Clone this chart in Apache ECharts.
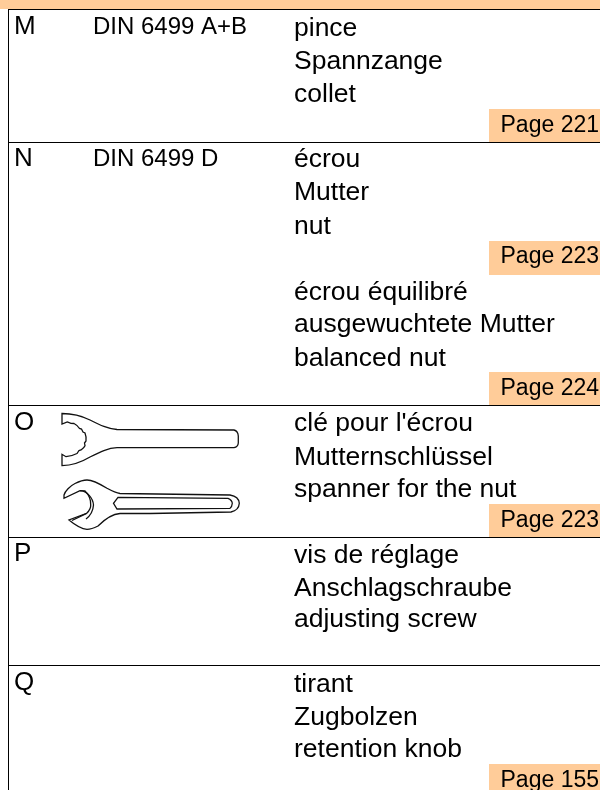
<!DOCTYPE html>
<html><head><meta charset="utf-8">
<style>html,body{margin:0;padding:0;background:#fff}#c{width:600px;height:790px}</style>
<script src="https://cdn.jsdelivr.net/npm/echarts@6/dist/echarts.min.js"></script></head>
<body><div id="c"></div>
<script>
const rowLetters = ['M','N','O','P','Q'];
const normLabels = ['DIN 6499 A+B','DIN 6499 D'];
const descriptions = [
  'pince','Spannzange','collet',
  'écrou','Mutter','nut',
  'écrou équilibré','ausgewuchtete Mutter','balanced nut',
  "clé pour l'écrou",'Mutternschlüssel','spanner for the nut',
  'vis de réglage','Anschlagschraube','adjusting screw',
  'tirant','Zugbolzen','retention knob'
];
const pageLabels = ['Page 221','Page 223','Page 224','Page 223','Page 155'];

const FONT = '"Liberation Sans", Arial, sans-serif';
const ORANGE = '#FFCC99';
const letterY = [35,167,431,562,691];
const normY = [35,167];
const descY = [36,69,102, 167,200.5,234, 300,332,366, 431,465,497.5, 563,596,627, 692,725,757];
const pageRect = [[489,109,33],[489,241,34],[489,372,33],[489,504,33],[489,764,26]];
const pageBase = [133,264,396,528,788];
const rules = [9,142,405,537,665];

const baselineText = (x,base,text,size,align) => ({
  type:'text',x:x,y:base-size*0.8,
  style:{text:text,font:size+'px '+FONT,fill:'#000',textAlign:align||'left',textVerticalAlign:'top'}
});
const g = [];
g.push({type:'rect',shape:{x:0,y:0,width:600,height:9},style:{fill:ORANGE},silent:true});
pageRect.forEach((r,i)=>{
  g.push({type:'rect',shape:{x:r[0],y:r[1],width:600-r[0],height:r[2]},style:{fill:ORANGE}});
  g.push(baselineText(599,pageBase[i],pageLabels[i],23,'right'));
});
rules.forEach(y=>g.push({type:'rect',shape:{x:8,y:y,width:592,height:1},style:{fill:'#000'}}));
g.push({type:'rect',shape:{x:8,y:9,width:1,height:781},style:{fill:'#000'}});
rowLetters.forEach((t,i)=>g.push(baselineText(14,letterY[i],t,26,'left')));
normLabels.forEach((t,i)=>g.push(baselineText(93,normY[i],t,24,'left')));
descriptions.forEach((t,i)=>g.push(baselineText(294,descY[i],t,26.5,'left')));

const spannerPaths = [
 'M62 413.5 C70 413.5 80 415 90 420 C100 425 108 429 117 429.5 L234 430 Q238 431 238.3 436 L238.3 443 Q238 447 234 447.7 L117 447.7 C108 448 100 452 90 457 C80 463 70 465.5 62 465.7 L62 454.3 L66 456.7 C70 456.5 74 455 77 453.5 L79 450.5 L81 450 C83 448.5 84.5 447 85 445.7 L84.5 443 L86 441 C86.3 438 86 435.5 85 433 L83 432 L81.5 429 L79.5 428.5 C78 426 76 424.5 74 423.5 L71 423.3 L67.3 422 L62 424 Z',
 'M64 495 C65 491 70 486 75 483.5 C80 481 84 480 87 480 C92 480 100 484 107 488.3 C112 491 116 493 120 493.5 L230 495 C236 496 239 499 239.3 503.3 C239 508 236 511 231 512 L150 513.5 L120 513.5 C113 514 106 518 98 526 C94 528 90 529.3 87 529.3 C82 529 75 525 69 520 L86.7 513.3 C89 511 91 509 90.7 505 C91 500 89 495 85 491 L80 490.7 L64 498.3 Z',
 'M118 497.3 L228 498.3 Q232 500 232.3 503.3 Q232 507 230 508.3 L117 509 L113.5 503.3 Z',
 'M80 490.7 C87 491 93 498 93.5 505 C93 512 90 516 86 519 M86.7 513.3 L72 520.5'
];
const closedFill = [true,true,true,false];

echarts.init(document.getElementById('c'),null,{renderer:'canvas'}).setOption({
  animation:false,
  graphic:{elements:g},
  series:[{
    type:'custom',coordinateSystem:'none',silent:true,data:[[0]],z:10,
    renderItem:()=>({type:'group',children:spannerPaths.map((p,i)=>({
      type:'path',shape:{pathData:p},
      style:{fill:closedFill[i]?'#fff':'none',stroke:'#111',lineWidth:1.3}
    }))})
  }]
});
</script></body></html>
